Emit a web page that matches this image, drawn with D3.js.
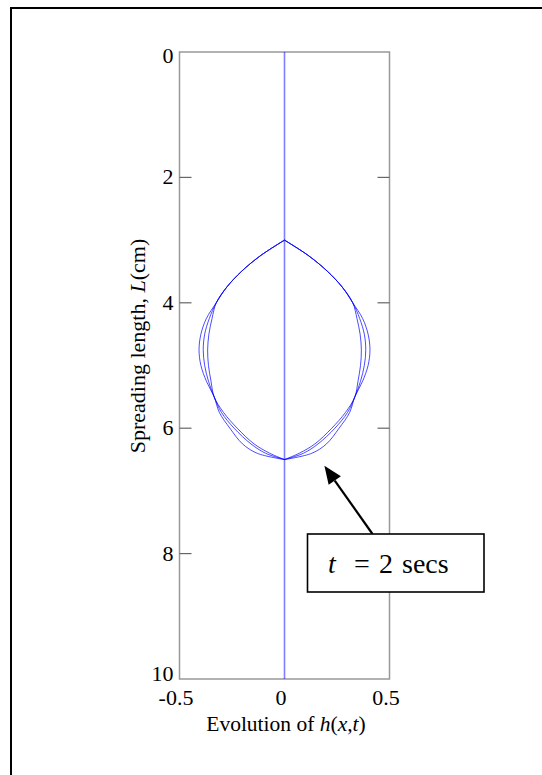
<!DOCTYPE html>
<html>
<head>
<meta charset="utf-8">
<script src="https://cdn.jsdelivr.net/npm/d3@7"></script>
<style>
  html, body { margin: 0; padding: 0; background: #fff; }
  svg { display: block; }
  text { font-family: "Liberation Serif", "Times New Roman", serif; fill: #000; }
</style>
</head>
<body>
<svg id="chart" width="542" height="775"></svg>
<script>
// Spreading length positions (cm) at which the film thickness is sampled
const spreadL = [3.0, 3.25, 3.5, 3.75, 4.0, 4.25, 4.5, 4.75, 5.0, 5.25, 5.5, 5.75, 6.0, 6.25, 6.4, 6.5];
// Film profile h(x,t) for three successive snapshots
const hOuter = [0, 0.115, 0.205, 0.275, 0.325, 0.372, 0.398, 0.407, 0.398, 0.372, 0.335, 0.31, 0.26, 0.2, 0.13, 0];
const hMiddle = [0, 0.115, 0.205, 0.275, 0.325, 0.358, 0.38, 0.387, 0.38, 0.362, 0.335, 0.30, 0.24, 0.16, 0.09, 0];
const hInner = [0, 0.115, 0.205, 0.275, 0.325, 0.345, 0.36, 0.366, 0.362, 0.35, 0.335, 0.29, 0.225, 0.145, 0.07, 0];
const profiles = [hOuter, hMiddle, hInner];

// Axis ticks
const xTicks = [-0.5, 0, 0.5];
const xTickLabels = ["-0.5", "0", "0.5"];
const yTicks = [0, 2, 4, 6, 8, 10];
const yTickLabels = ["0", "2", "4", "6", "8", "10"];

// Annotation
const annotationParts = ["=", "2", "secs"];
const annotationTarget = { h: 0.19, L: 6.6 };

const svg = d3.select("#chart");

// Outer page frame
svg.append("rect")
  .attr("x", 11).attr("y", 8)
  .attr("width", 600).attr("height", 820)
  .attr("fill", "none").attr("stroke", "#000").attr("stroke-width", 2);

const plot = { left: 179.5, right: 389.5, top: 52, bottom: 679 };

const x = d3.scaleLinear().domain([-0.5, 0.5]).range([plot.left, plot.right]);
const y = d3.scaleLinear().domain([0, 10]).range([plot.top, plot.bottom]);

// Plot frame
svg.append("rect")
  .attr("x", plot.left).attr("y", plot.top)
  .attr("width", plot.right - plot.left).attr("height", plot.bottom - plot.top)
  .attr("fill", "none").attr("stroke", "#999").attr("stroke-width", 1.5);

// Inward ticks on left and right
const tickLen = 12;
const yInner = yTicks.filter(v => v > 0 && v < 10);
svg.append("g").selectAll("line.tl").data(yInner).join("line")
  .attr("x1", plot.left).attr("x2", plot.left + tickLen)
  .attr("y1", d => y(d)).attr("y2", d => y(d))
  .attr("stroke", "#666").attr("stroke-width", 1.2);
svg.append("g").selectAll("line.tr").data(yInner).join("line")
  .attr("x1", plot.right).attr("x2", plot.right - tickLen)
  .attr("y1", d => y(d)).attr("y2", d => y(d))
  .attr("stroke", "#666").attr("stroke-width", 1.2);

// Y tick labels (end labels nudged inward so they clear the x labels)
svg.append("g").selectAll("text").data(yTicks).join("text")
  .attr("x", plot.left - 6)
  .attr("y", d => y(d) + 7 + (d === 0 ? 4 : d === 10 ? -5 : 0))
  .attr("text-anchor", "end")
  .attr("font-size", 22)
  .text((d, i) => yTickLabels[i]);

// X tick labels
svg.append("g").selectAll("text").data(xTicks).join("text")
  .attr("x", d => x(d) - 3.5)
  .attr("y", plot.bottom + 26)
  .attr("text-anchor", "middle")
  .attr("font-size", 22)
  .text((d, i) => xTickLabels[i]);

// X axis title
const xt = svg.append("text")
  .attr("x", 286).attr("y", 731)
  .attr("text-anchor", "middle")
  .attr("font-size", 21.5);
xt.append("tspan").text("Evolution of ");
xt.append("tspan").attr("font-style", "italic").text("h");
xt.append("tspan").text("(");
xt.append("tspan").attr("font-style", "italic").text("x");
xt.append("tspan").text(",");
xt.append("tspan").attr("font-style", "italic").text("t");
xt.append("tspan").text(")");

// Y axis title
const yt = svg.append("text")
  .attr("transform", "translate(145,346) rotate(-90)")
  .attr("text-anchor", "middle")
  .attr("font-size", 22);
yt.append("tspan").text("Spreading length, ");
yt.append("tspan").attr("font-style", "italic").text("L");
yt.append("tspan").text("(cm)");

// Zero-thickness line along the whole domain
const lineV = d3.line().x(d => x(d[0])).y(d => y(d[1]));
svg.append("path")
  .attr("d", lineV([[0, yTicks[0]], [0, yTicks[yTicks.length - 1]]]))
  .attr("fill", "none").attr("stroke", "#0000ff").attr("stroke-opacity", 0.5).attr("stroke-width", 1.6);

// Film profiles, drawn as +h and -h about the centre line
const profileLine = d3.line()
  .x(d => x(d[0])).y(d => y(d[1]))
  .curve(d3.curveCatmullRom.alpha(0.5));
const gp = svg.append("g");
profiles.forEach(h => {
  [1, -1].forEach(s => {
    const pts = spreadL.map((L, i) => [s * h[i], L]);
    gp.append("path")
      .attr("d", profileLine(pts))
      .attr("fill", "none")
      .attr("stroke", "#0000ff")
      .attr("stroke-opacity", 0.7)
      .attr("stroke-width", 1);
  });
});

// Annotation arrow and box
const box = { x: 307.5, y: 534, w: 176.5, h: 58 };
const tip = [x(annotationTarget.h), y(annotationTarget.L)];
const tail = [372.5, box.y];
const ang = Math.atan2(tip[1] - tail[1], tip[0] - tail[0]);
const headLen = 18, headW = 7.5;
const baseX = tip[0] - headLen * Math.cos(ang), baseY = tip[1] - headLen * Math.sin(ang);
svg.append("line")
  .attr("x1", tail[0]).attr("y1", tail[1])
  .attr("x2", baseX).attr("y2", baseY)
  .attr("stroke", "#000").attr("stroke-width", 2.2);
svg.append("path")
  .attr("d", `M${tip[0]},${tip[1]} L${baseX + headW * Math.sin(ang)},${baseY - headW * Math.cos(ang)} L${baseX - headW * Math.sin(ang)},${baseY + headW * Math.cos(ang)} Z`)
  .attr("fill", "#000");

svg.append("rect")
  .attr("x", box.x).attr("y", box.y).attr("width", box.w).attr("height", box.h)
  .attr("fill", "#fff").attr("stroke", "#000").attr("stroke-width", 1.6);
const at = svg.append("text")
  .attr("y", 573)
  .attr("font-size", 28);
at.append("tspan").attr("x", 328).attr("font-style", "italic").text("t");
at.append("tspan").attr("x", 354).text(annotationParts[0]);
at.append("tspan").attr("x", 379).text(annotationParts[1]);
at.append("tspan").attr("x", 402).text(annotationParts[2]);
</script>
</body>
</html>
